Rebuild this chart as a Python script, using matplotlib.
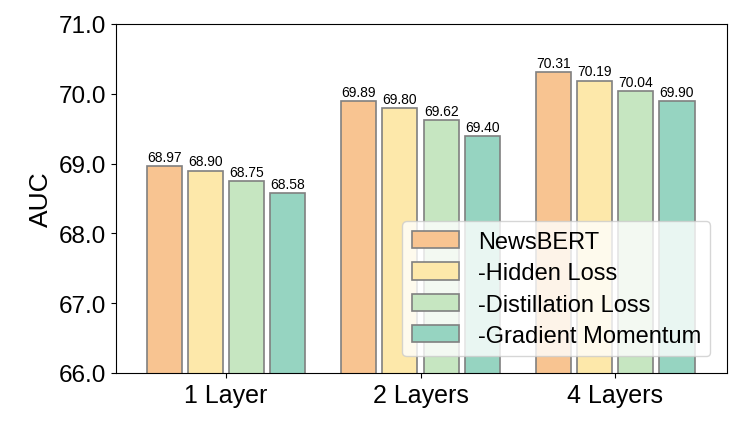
import matplotlib
matplotlib.use("Agg")
import matplotlib.pyplot as plt
import numpy as np

plt.rcParams['font.family'] = ['Liberation Sans', 'DejaVu Sans']

categories = ["1 Layer", "2 Layers", "4 Layers"]
series_names = ["NewsBERT", "-Hidden Loss", "-Distillation Loss", "-Gradient Momentum"]
newsbert = [68.97, 69.89, 70.31]
hidden_loss = [68.90, 69.80, 70.19]
distill_loss = [68.75, 69.62, 70.04]
grad_momentum = [68.58, 69.40, 69.90]
series = [newsbert, hidden_loss, distill_loss, grad_momentum]
colors = ["#F8C491", "#FDE8AA", "#C6E6C1", "#96D4C1"]

fig = plt.figure(figsize=(7.47, 4.27), dpi=100)
ax = fig.add_axes([116/747, 1-374/427, (727-116)/747, (374-25)/427])

x = np.arange(len(categories))
width = 0.18
step = 0.212
for i, (vals, name, c) in enumerate(zip(series, series_names, colors)):
    pos = x + (i - 1.5) * step
    ax.bar(pos, vals, width, color=c, edgecolor="#808080", linewidth=1.2, label=name)
    for p, v in zip(pos, vals):
        ax.text(p, v + 0.03, f"{v:.2f}", ha="center", va="bottom", fontsize=10)

ax.set_ylim(66.0, 71.0)
ax.set_xlim(-0.565, 2.575)
ax.set_yticks(np.arange(66.0, 71.01, 1.0))
ax.set_yticklabels([f"{t:.1f}" for t in np.arange(66.0, 71.01, 1.0)], fontsize=17.5)
ax.set_xticks(x)
ax.set_xticklabels(categories, fontsize=18)
ax.set_ylabel("AUC", fontsize=19)
ax.legend(loc="lower right", fontsize=17, handlelength=2.0, handleheight=0.75,
          borderaxespad=0.7, handletextpad=0.8, labelspacing=0.4)

fig.savefig("out.png", dpi=100)
